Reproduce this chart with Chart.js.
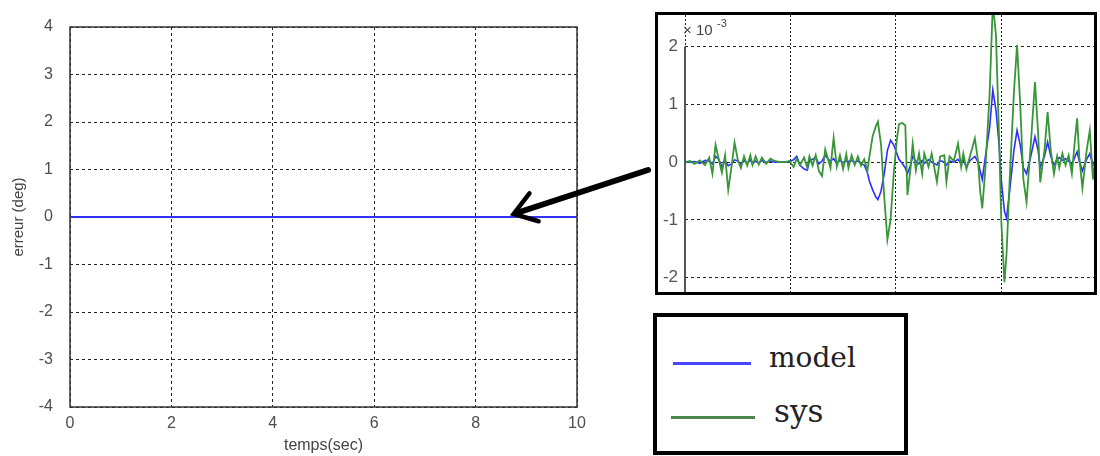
<!DOCTYPE html>
<html>
<head>
<meta charset="utf-8">
<script src="https://cdn.jsdelivr.net/npm/chart.js@4"></script>
<style>
body { margin: 0; background: #fff; width: 1100px; height: 456px; position: relative; overflow: hidden; }
#mainChart { position: absolute; left: 0; top: 0; }
#insetBox { position: absolute; left: 655px; top: 12px; width: 436px; height: 277px; border: 3px solid #000; background: #fff; }
#legendBox { position: absolute; left: 653px; top: 313px; width: 247px; height: 134px; border: 4px solid #000; background: #fff; }
.legLine { position: absolute; height: 3px; }
.legText { position: absolute; font-family: 'DejaVu Serif', 'Liberation Serif', serif; line-height: 1; color: #222; white-space: nowrap; }
</style>
</head>
<body>
<canvas id="mainChart" width="660" height="456"></canvas>
<div id="insetBox"><canvas id="inset" width="436" height="277"></canvas></div>
<div id="legendBox">
  <div class="legLine" id="legLine0" style="left:16px;top:45px;width:78px;background:rgb(70,70,255);"></div>
  <div class="legText" id="legText0" style="left:112px;top:27px;font-size:28px;"></div>
  <div class="legLine" id="legLine1" style="left:14px;top:99px;width:84px;background:rgb(75,135,75);"></div>
  <div class="legText" id="legText1" style="left:117px;top:79px;font-size:31px;"></div>
</div>
<script>
// main plot data
var mainTime = [0, 1, 2, 3, 4, 5, 6, 7, 8, 9, 10];
var mainErr = [0, 0, 0, 0, 0, 0, 0, 0, 0, 0, 0];
var mainXTicks = [0, 2, 4, 6, 8, 10];
var mainYTicks = [-4, -3, -2, -1, 0, 1, 2, 3, 4];

// inset (zoomed error, x 10^-3)
var seriesNames = ['model', 'sys'];
var insetTime = [0.00,0.05,0.09,0.14,0.19,0.23,0.26,0.29,0.32,0.35,0.38,0.41,0.44,0.47,0.50,0.53,0.56,0.59,0.62,0.64,
  0.67,0.70,0.73,0.77,0.81,0.85,0.90,0.95,0.99,1.03,1.06,1.09,1.13,1.16,1.18,1.21,1.24,1.27,1.30,1.33,
  1.36,1.38,1.41,1.44,1.47,1.50,1.53,1.55,1.58,1.61,1.64,1.67,1.70,1.73,1.75,1.78,1.81,1.83,1.86,1.89,
  1.92,1.95,1.98,2.01,2.03,2.06,2.09,2.11,2.14,2.16,2.19,2.22,2.25,2.27,2.31,2.34,2.39,2.42,2.46,2.48,
  2.51,2.55,2.59,2.62,2.64,2.67,2.70,2.75,2.78,2.80,2.82,2.85,2.89,2.92,2.95,2.98,3.00,3.03,3.05,3.08,
  3.12,3.15,3.18,3.21,3.24,3.28,3.32,3.35,3.37,3.41,3.44,3.47,3.50,3.53,3.55,3.58,3.61,3.64,3.67,3.70,
  3.72,3.74,3.77,3.81,3.84,3.87,3.90];
var modelErr = [0,0,0.01,-0.02,0.03,0.02,-0.03,0.1,0.05,-0.08,0.02,-0.06,-0.03,0.04,0.02,-0.05,0.03,-0.02,0.04,-0.03,
  0.02,-0.02,0.03,0,0.02,0,0,0,0.01,0.04,0.1,-0.05,-0.12,-0.14,0.02,0.05,0.08,-0.03,0.02,0.12,
  0.05,0.02,0.06,-0.02,0.03,-0.01,0.02,0.01,0.03,0,0.02,-0.03,-0.05,-0.18,-0.33,-0.48,-0.6,-0.65,-0.5,-0.2,
  0.2,0.38,0.3,0.15,0.05,-0.02,-0.1,-0.2,-0.05,0.1,0.02,-0.03,0.03,-0.02,0.04,0,-0.05,0.03,0,-0.05,
  0.02,0,0.05,-0.03,0.04,-0.08,0.02,0.1,0,-0.15,-0.3,0.1,0.6,1.25,0.9,0.3,-0.3,-0.85,-0.97,-0.5,
  0.2,0.55,0.3,-0.1,-0.2,0.1,0.44,0.2,-0.1,0.1,0.35,0.1,-0.05,0.05,0.08,0.03,0.06,0.02,-0.05,0.1,
  0.18,0.02,-0.15,0.05,0.15,-0.05,0.08];
var sysErr = [0,0.02,-0.03,0.03,-0.05,0.08,-0.2,0.3,0.05,-0.18,0.12,-0.48,-0.1,0.34,0.05,-0.1,0.1,-0.06,0.12,-0.05,
  0.1,-0.04,0.08,-0.03,0.06,0.02,0,0,0.02,-0.08,0.06,-0.05,0.08,-0.1,0.1,-0.06,0.12,-0.15,-0.24,0.22,
  0.03,-0.1,0.42,-0.08,0.12,-0.12,0.14,-0.1,0.12,-0.05,0.1,-0.06,0.05,-0.15,0.1,0.45,0.62,0.7,0.3,-0.6,
  -1.34,-1.0,-0.2,0.4,0.66,0.68,0.64,-0.57,-0.1,0.32,-0.14,0.15,-0.2,0.15,-0.08,0.15,-0.34,0.1,0.12,-0.34,
  0.1,0.02,0.32,-0.08,0.15,-0.12,0.08,0.41,0.02,-0.5,-0.8,-0.1,1.19,2.75,2.2,0.4,-1.0,-2.08,-1.6,-0.3,
  1.2,2.03,1.0,-0.3,-0.69,0.3,1.39,0.5,-0.35,0.2,0.87,0.2,-0.2,0.1,-0.1,0.15,-0.05,0.12,-0.2,0.4,
  0.76,0.1,-0.45,0.2,0.55,-0.3,0.2];
var insetYTicks = [-2, -1, 0, 1, 2];

// where the arrow points on the main plot
var arrowTip = [8.75, 0];

var tickFont = { family: 'Liberation Sans, Arial, sans-serif', size: 16 };

// box round the plot area + arrow to the inset
var boxAndArrow = {
  id: 'boxAndArrow',
  afterDraw: function(chart) {
    var ctx = chart.ctx, a = chart.chartArea;
    ctx.save();
    ctx.strokeStyle = '#333';
    ctx.lineWidth = 1.5;
    ctx.strokeRect(a.left, a.top, a.right - a.left, a.bottom - a.top);

    var tipX = chart.scales.x.getPixelForValue(arrowTip[0]);
    var tipY = chart.scales.y.getPixelForValue(arrowTip[1]) - 3;
    var tailX = 648, tailY = 170;
    var ang = Math.atan2(tailY - tipY, tailX - tipX);
    ctx.strokeStyle = '#000';
    ctx.lineCap = 'round';
    ctx.lineWidth = 6;
    ctx.beginPath();
    ctx.moveTo(tailX, tailY);
    ctx.lineTo(tipX + 4 * Math.cos(ang), tipY + 4 * Math.sin(ang));
    ctx.stroke();
    ctx.lineWidth = 4.5;
    ctx.beginPath();
    ctx.moveTo(tipX + 26 * Math.cos(ang - 0.6), tipY + 26 * Math.sin(ang - 0.6));
    ctx.lineTo(tipX, tipY);
    ctx.lineTo(tipX + 26 * Math.cos(ang + 0.6), tipY + 26 * Math.sin(ang + 0.6));
    ctx.stroke();
    ctx.restore();
  }
};

var ctx = document.getElementById('mainChart').getContext('2d');
var chart = new Chart(ctx, {
    type: 'line',
    data: {
        datasets: [{
            label: 'erreur',
            data: mainTime.map(function(t, i) { return { x: t, y: mainErr[i] }; }),
            borderColor: 'rgb(50, 50, 255)',
            borderWidth: 2,
            pointRadius: 0,
            tension: 0
        }]
    },
    options: {
        responsive: false,
        animation: false,
        layout: { padding: { top: 27, right: 83, left: 0, bottom: 0 } },
        plugins: { legend: { display: false }, tooltip: { enabled: false } },
        scales: {
            x: {
                type: 'linear', min: 0, max: 10,
                afterBuildTicks: function(s) { s.ticks = mainXTicks.map(function(v) { return { value: v }; }); },
                ticks: { padding: 7, color: '#4d4d4d', font: tickFont },
                grid: { color: '#222', lineWidth: 1, drawTicks: false },
                border: { display: false, dash: [3, 3] },
                title: { display: true, text: 'temps(sec)', color: '#444', font: { family: 'Liberation Sans, Arial, sans-serif', size: 16 }, padding: { top: 0, bottom: 1 } },
                afterFit: function(s) { s.height = 49; }
            },
            y: {
                min: -4, max: 4,
                afterBuildTicks: function(s) { s.ticks = mainYTicks.map(function(v) { return { value: v }; }); },
                ticks: { padding: 17, color: '#4d4d4d', font: tickFont },
                grid: { color: '#222', lineWidth: 1, drawTicks: false },
                border: { display: false, dash: [3, 3] },
                title: { display: true, text: 'erreur (deg)', color: '#444', font: { family: 'Liberation Sans, Arial, sans-serif', size: 15 }, padding: { top: 10, bottom: 0 } },
                afterFit: function(s) { s.width = 70; }
            }
        }
    },
    plugins: [boxAndArrow]
});

// left axis line and the x 10^-3 factor on the inset
var insetDeco = {
  id: 'insetDeco',
  afterDraw: function(chart) {
    var ctx = chart.ctx, a = chart.chartArea;
    ctx.save();
    ctx.strokeStyle = '#555';
    ctx.lineWidth = 2;
    ctx.beginPath();
    ctx.moveTo(a.left, chart.scales.y.getPixelForValue(2));
    ctx.lineTo(a.left, a.bottom);
    ctx.stroke();
    ctx.fillStyle = '#444';
    ctx.textBaseline = 'middle';
    ctx.font = '15px Liberation Sans, Arial, sans-serif';
    ctx.fillText('\u00d7 10', a.left - 2, 16);
    ctx.font = '11px Liberation Sans, Arial, sans-serif';
    ctx.fillText('-3', a.left + 32, 9);
    ctx.restore();
  }
};

var ctx2 = document.getElementById('inset').getContext('2d');
var chart2 = new Chart(ctx2, {
    type: 'line',
    data: {
        datasets: [{
            label: seriesNames[1],
            data: insetTime.map(function(t, i) { return { x: t, y: sysErr[i] }; }),
            borderColor: 'rgb(55, 150, 55)',
            borderWidth: 1.8,
            pointRadius: 0,
            tension: 0,
            order: 0
        }, {
            label: seriesNames[0],
            data: insetTime.map(function(t, i) { return { x: t, y: modelErr[i] }; }),
            borderColor: 'rgb(45, 45, 255)',
            borderWidth: 1.6,
            pointRadius: 0,
            tension: 0,
            order: 1
        }]
    },
    options: {
        responsive: false,
        animation: false,
        layout: { padding: 0 },
        plugins: { legend: { display: false }, tooltip: { enabled: false } },
        scales: {
            x: {
                type: 'linear', min: 0, max: 3.88,
                ticks: { display: false, stepSize: 1 },
                grid: { color: '#222', lineWidth: 1, drawTicks: false },
                border: { display: false, dash: [2, 2] },
                afterFit: function(s) { s.height = 0; s.paddingLeft = 0; s.paddingRight = 0; }
            },
            y: {
                min: -2.25, max: 2.55,
                afterBuildTicks: function(s) { s.ticks = insetYTicks.map(function(v) { return { value: v }; }); },
                ticks: { padding: 7, color: '#555', font: { family: 'Liberation Sans, Arial, sans-serif', size: 17 } },
                grid: { color: '#222', lineWidth: 1, drawTicks: false },
                border: { display: false, dash: [3, 3] },
                afterFit: function(s) { s.width = 27; s.paddingTop = 0; s.paddingBottom = 0; }
            }
        }
    },
    plugins: [insetDeco]
});

// detached legend box
document.getElementById('legText0').textContent = seriesNames[0];
document.getElementById('legText1').textContent = seriesNames[1];
</script>
</body>
</html>
